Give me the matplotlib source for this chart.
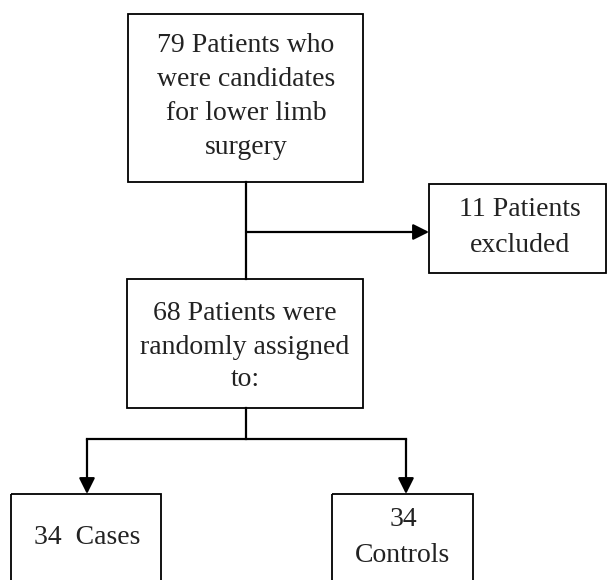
import matplotlib.pyplot as plt
from matplotlib.patches import Rectangle

# box texts of the flow diagram
screened = ["79 Patients who", "were candidates", "for lower limb", "surgery"]
excluded = ["11 Patients", "excluded"]
randomized = ["68 Patients were", "randomly assigned", "to:"]
cases = ["34  Cases"]
controls = ["34", "Controls"]

fig = plt.figure(figsize=(6.08, 5.80), dpi=100)
ax = fig.add_axes([0, 0, 1, 1])
ax.set_xlim(0, 608)
ax.set_ylim(580, 0)
ax.axis('off')

font = dict(family='Liberation Serif', fontsize=20, color='#222222',
            ha='center', va='center')


def box(x0, y0, x1, y1):
    ax.add_patch(Rectangle((x0, y0), x1 - x0, y1 - y0, fill=False,
                           edgecolor='black', linewidth=1.3))


def lines(texts, xc, ys):
    for t, y in zip(texts, ys):
        ax.text(xc, y, t, **font)


def arrow(x0, y0, x1, y1):
    ax.annotate('', xy=(x1, y1), xytext=(x0, y0),
                arrowprops=dict(arrowstyle='-|>', color='black', lw=1.6,
                                mutation_scale=24, shrinkA=0, shrinkB=0))


# boxes
box(128, 14, 363, 182)
lines(screened, 246, [45, 80, 114, 148])

box(429, 184, 606, 273)
lines(excluded, 520, [210, 245])

box(127, 279, 363, 408)
lines(randomized, 245, [314, 347, 380])

box(11, 494, 161, 600)
lines(cases, 87, [538])

box(332, 494, 473, 600)
lines(controls, 403, [520, 555])

# connectors
ax.plot([246, 246], [182, 279], color='black', lw=1.6)
arrow(246, 232, 429, 232)
ax.plot([246, 246], [408, 439], color='black', lw=1.6)
ax.plot([87, 406], [439, 439], color='black', lw=1.6)
arrow(87, 439, 87, 494)
arrow(406, 439, 406, 494)

plt.savefig('out.png', dpi=100)
